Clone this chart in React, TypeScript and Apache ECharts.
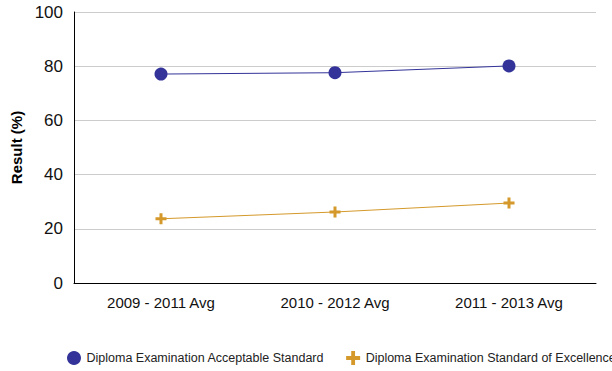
import React, { useEffect, useRef } from "react";
import * as echarts from "echarts";

const categories = ["2009 - 2011 Avg", "2010 - 2012 Avg", "2011 - 2013 Avg"];
const acceptable = [77.1, 77.6, 80.1];
const excellence = [23.7, 26.2, 29.5];
const seriesNames = [
  "Diploma Examination Acceptable Standard",
  "Diploma Examination Standard of Excellence",
];

const FONT = "'Liberation Sans', Arial, sans-serif";
const PLUS = "path://M4,0h3v4h4v3h-4v4h-3v-4h-4v-3h4z";

export default function App() {
  const ref = useRef<HTMLDivElement>(null);
  useEffect(() => {
    document.body.style.margin = "0";
    const chart = echarts.init(ref.current!, null, { renderer: "svg" });
    chart.setOption({
      animation: false,
      backgroundColor: "#ffffff",
      textStyle: { fontFamily: FONT },
      grid: { left: 74, right: 16, top: 12, bottom: 88, containLabel: false },
      legend: {
        left: 62,
        top: 346,
        width: 1200,
        itemGap: 22,
        itemWidth: 15,
        itemHeight: 14,
        textStyle: { fontSize: 12.5, color: "#222", fontFamily: FONT },
        data: [
          { name: seriesNames[0], icon: "circle" },
          { name: seriesNames[1], icon: PLUS },
        ],
      },
      xAxis: {
        type: "category",
        data: categories,
        boundaryGap: true,
        axisLine: { show: true, lineStyle: { color: "#000", width: 1 } },
        axisTick: { show: false },
        axisLabel: { fontSize: 15, color: "#111", margin: 12, fontFamily: FONT },
        splitLine: { show: false },
      },
      yAxis: {
        type: "value",
        min: 0,
        max: 100,
        interval: 20,
        name: "Result (%)",
        nameLocation: "middle",
        nameGap: 50,
        nameTextStyle: { fontSize: 15, fontWeight: "bold", color: "#000", fontFamily: FONT },
        axisLine: { show: true, lineStyle: { color: "#000", width: 1 } },
        axisTick: { show: false },
        axisLabel: { fontSize: 17, color: "#111", margin: 11, fontFamily: FONT },
        splitLine: { show: true, lineStyle: { color: "#cccccc", width: 1 } },
      },
      series: [
        {
          name: seriesNames[0],
          type: "line",
          data: acceptable,
          symbol: "circle",
          symbolSize: 13,
          itemStyle: { color: "#333399" },
          lineStyle: { color: "#333399", width: 1 },
        },
        {
          name: seriesNames[1],
          type: "line",
          data: excellence,
          symbol: PLUS,
          symbolSize: 11,
          itemStyle: { color: "#D4992A" },
          lineStyle: { color: "#D4992A", width: 1 },
        },
      ],
    });
    return () => chart.dispose();
  }, []);
  return <div ref={ref} style={{ width: 612, height: 371 }} />;
}
